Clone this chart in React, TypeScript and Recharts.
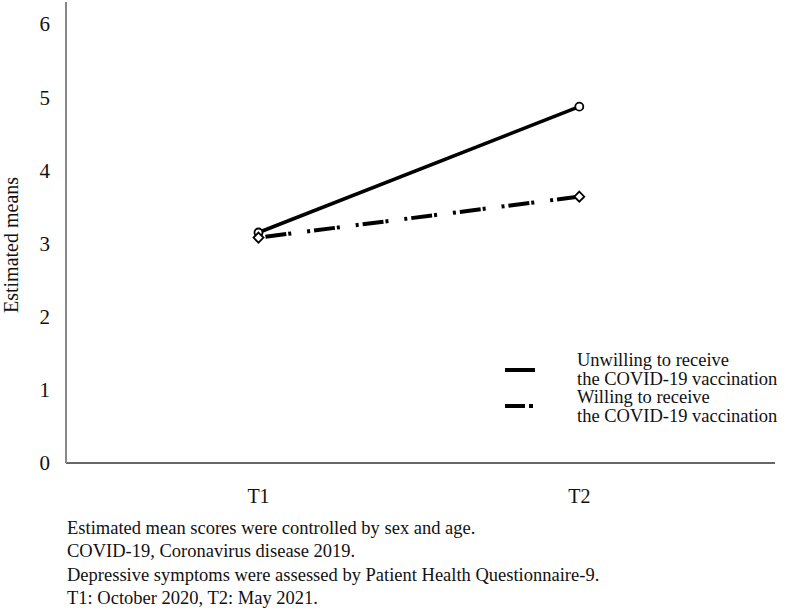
import React from "react";
import { LineChart, Line, XAxis, YAxis } from "recharts";

const timePoints = [1, 2];
const timeLabels = ["T1", "T2"];
const unwilling = [3.15, 4.87];
const willing = [3.08, 3.64];
const yTicks = [0, 1, 2, 3, 4, 5, 6];
const legendLines = [
  ["Unwilling to receive", "the COVID-19 vaccination"],
  ["Willing to receive", "the COVID-19 vaccination"],
];
const notes = [
  "Estimated mean scores were controlled by sex and age.",
  "COVID-19, Coronavirus disease 2019.",
  "Depressive symptoms were assessed by Patient Health Questionnaire-9.",
  "T1: October 2020, T2: May 2021.",
];

const data = timePoints.map((t, i) => ({
  t,
  unwilling: unwilling[i],
  willing: willing[i],
}));

const FONT = "'Liberation Serif', 'Times New Roman', serif";
const DASH = "3 4 21 2 3 16";

const CircleDot = (props: any) => {
  const { cx, cy } = props;
  if (cx == null || cy == null) return null;
  return <circle cx={cx} cy={cy} r={4} fill="#fff" stroke="#000" strokeWidth={1.8} />;
};

const DiamondDot = (props: any) => {
  const { cx, cy } = props;
  if (cx == null || cy == null) return null;
  const r = 5;
  return (
    <polygon
      points={`${cx},${cy - r} ${cx + r},${cy} ${cx},${cy + r} ${cx - r},${cy}`}
      fill="#fff"
      stroke="#000"
      strokeWidth={1.8}
    />
  );
};

export default function App() {
  return (
    <div
      style={{
        position: "absolute",
        left: 0,
        top: 0,
        width: 789,
        height: 611,
        background: "#fff",
        fontFamily: FONT,
      }}
    >
      <LineChart
        width={789}
        height={611}
        data={data}
        margin={{ top: 2, right: 14, bottom: 0, left: 6 }}
        style={{ fontFamily: FONT }}
      >
        <XAxis
          dataKey="t"
          type="number"
          domain={[0.4, 2.61]}
          ticks={timePoints}
          tickFormatter={(v: number) => timeLabels[timePoints.indexOf(v)] ?? ""}
          tickLine={false}
          axisLine={{ stroke: "#666", strokeWidth: 2 }}
          tick={{ fill: "#111", fontSize: 20, fontFamily: FONT }}
          tickMargin={20}
          height={148}
        />
        <YAxis
          type="number"
          domain={[0, 6.3]}
          ticks={yTicks}
          tickLine={false}
          axisLine={{ stroke: "#888", strokeWidth: 2 }}
          tick={{ fill: "#111", fontSize: 21, fontFamily: FONT }}
          tickMargin={10}
          width={60}
        />
        <Line
          dataKey="unwilling"
          stroke="#000"
          strokeWidth={3.5}
          dot={<CircleDot />}
          isAnimationActive={false}
        />
        <Line
          dataKey="willing"
          stroke="#000"
          strokeWidth={4}
          strokeDasharray={DASH}
          dot={<DiamondDot />}
          isAnimationActive={false}
        />
        <g>
          <text
            transform="translate(18,245) rotate(-90)"
            textAnchor="middle"
            fontSize={20}
            fontFamily={FONT}
            fill="#111"
          >
            Estimated means
          </text>
          <line x1={505} x2={535} y1={370} y2={370} stroke="#000" strokeWidth={4} />
          <line x1={505} x2={535} y1={406} y2={406} stroke="#000" strokeWidth={4} strokeDasharray="20 4 4 40" />
          {legendLines.map((ls, i) =>
            ls.map((s, j) => (
              <text
                key={`${i}-${j}`}
                x={577}
                y={366 + i * 37 + j * 18.5}
                fontSize={18.5}
                fontFamily={FONT}
                fill="#111"
              >
                {s}
              </text>
            ))
          )}
          {notes.map((s, i) => (
            <text key={i} x={67} y={534 + i * 23.3} fontSize={18.5} fontFamily={FONT} fill="#111">
              {s}
            </text>
          ))}
        </g>
      </LineChart>
    </div>
  );
}
